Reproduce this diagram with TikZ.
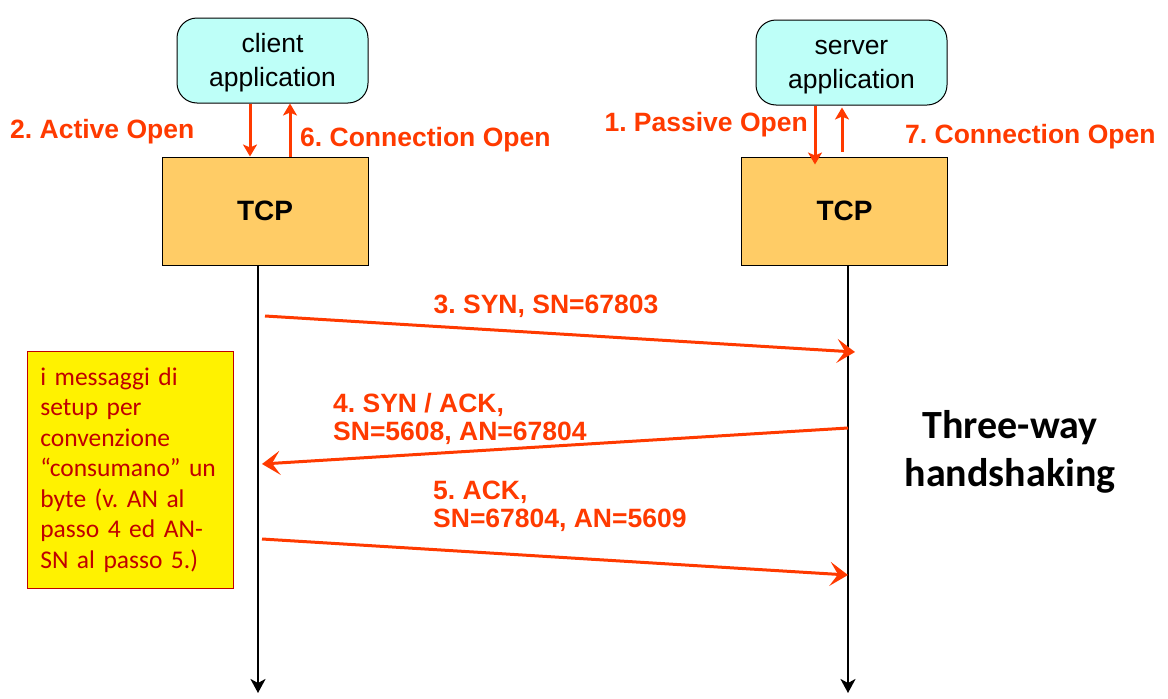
\documentclass[tikz,border=0pt]{standalone}
\usepackage{fontspec}
\setmainfont{Liberation Sans}
\newfontfamily\notefont{Carlito}
\usetikzlibrary{positioning,arrows.meta}
\frenchspacing

\definecolor{appfill}{RGB}{190,255,248}
\definecolor{tcpfill}{RGB}{255,204,102}
\definecolor{msgred}{RGB}{255,58,0}
\definecolor{notered}{RGB}{192,0,0}

\tikzset{
  app/.style={draw=black,line width=1pt,fill=appfill,rounded corners=20pt,
    minimum width=191pt,minimum height=85pt,align=center,
    font=\fontsize{26.5}{34}\selectfont},
  tcp/.style={draw=black,line width=1pt,fill=tcpfill,
    minimum width=206pt,minimum height=108pt,font=\fontsize{28}{30}\selectfont\bfseries},
  lbl/.style={text=msgred,font=\fontsize{26.5}{28.5}\selectfont\bfseries,inner sep=0pt},
  msg/.style={draw=msgred,line width=3pt,-{Stealth[length=18pt,width=24pt,inset=8pt]}},
  updown/.style={draw=msgred,line width=3pt,-{Stealth[length=12pt,width=14pt,inset=3pt]}},
  life/.style={draw=black,line width=2.5pt,-{Stealth[length=14pt,width=15pt,inset=4pt]}},
  note/.style={draw=notered,line width=0.6pt,fill=yellow,text=notered,
    minimum width=206pt,minimum height=237pt,text width=180pt,align=left,
    inner xsep=13pt,font=\notefont\fontsize{25.5}{30.5}\selectfont}
}

\begin{document}
\begin{tikzpicture}[x=1pt,y=-1pt]
  \useasboundingbox (0,0) rectangle (1168,699);

  % client
  \node[app] (cApp) at (272.5,60.5) {\strut client\\application};
  \node[tcp] (cTCP) at (265,211) {TCP};
  \coordinate (cEnd) at (258,693);
  % server
  \node[app] (sApp) at (851.5,62.5) {\strut server\\application};
  \node[tcp] (sTCP) at (844.5,211) {TCP};
  \coordinate (sEnd) at (848,693);

  % lifelines
  \path[life] (cEnd |- cTCP.south) -- (cEnd);
  \path[life] (sEnd |- sTCP.south) -- (sEnd);

  % application <-> TCP
  \path[updown] ([xshift=-22.5pt]cApp.south) -- ([xshift=-22.5pt]cApp.south |- cTCP.north);
  \path[updown] ([xshift=17.5pt]cApp.south |- cTCP.north) -- ([xshift=17.5pt]cApp.south);
  \path[updown] ([xshift=-36.5pt]sApp.south) -- ([xshift=-36.5pt,yshift=-8pt]sApp.south |- sTCP.north);
  \path[updown] ([xshift=-9.5pt,yshift=5pt]sApp.south |- sTCP.north) -- ([xshift=-9.5pt,yshift=-2pt]sApp.south);

  \node[lbl,anchor=west] (active) at (10,132) {2. Active Open};
  \node[lbl,anchor=west] (cOpen) at (300,140) {6. Connection Open};
  \node[lbl,anchor=east] (passive) at (808,125) {1. Passive Open};
  \node[lbl,anchor=west] (sOpen) at (905,137) {7. Connection Open};

  % handshake
  \coordinate (syn1) at (265,316);
  \coordinate (syn2) at (855,352);
  \coordinate (sa1) at (848,428);
  \coordinate (sa2) at (262,464);
  \coordinate (ack1) at (262,539);
  \coordinate (ack2) at (848,575);
  \path[msg] (syn1) -- (syn2);
  \path[msg] (sa1) -- (sa2);
  \path[msg] (ack1) -- (ack2);

  \node[lbl] (synLbl) at (546,306) {3. SYN, SN=67803};
  \node[lbl,anchor=west,align=left] (saLbl) at (333,419) {4. SYN / ACK,\\SN=5608, AN=67804};
  \node[lbl,anchor=west,align=left] (ackLbl) at (433,506.5) {5. ACK,\\SN=67804, AN=5609};

  \node[note,anchor=north west] (remark) at (27,351)
    {i messaggi di\\setup per\\convenzione\\“consumano” un\\byte (v. AN al\\passo 4 ed AN-\\SN al passo 5.)};
  \node[align=center,font=\notefont\fontsize{40}{48}\selectfont\bfseries] (title) at (1010,452)
    {Three-way\\handshaking};
\end{tikzpicture}
\end{document}
